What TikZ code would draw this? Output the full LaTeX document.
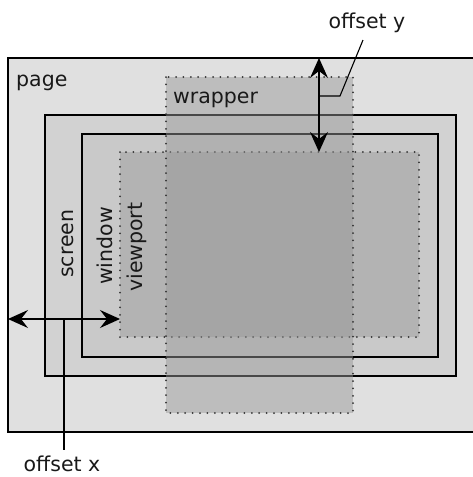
\documentclass[tikz,border=0pt]{standalone}
\usepackage{fontspec}
\setmainfont{DejaVu Sans}
\usetikzlibrary{arrows.meta}
\definecolor{pagefill}{HTML}{E0E0E0}
\definecolor{screenfill}{HTML}{D2D2D2}
\definecolor{windowfill}{HTML}{C9C9C9}
\definecolor{viewfill}{HTML}{B3B3B3}
\definecolor{wrapfill}{HTML}{979797}
\definecolor{dotcol}{HTML}{333333}
\tikzset{
  solidbox/.style={draw=black, line width=1.3pt},
  dotbox/.style={draw=dotcol, line width=2pt, line cap=round, dash pattern=on 0pt off 7.4pt},
  lbl/.style={font=\fontsize{20.5}{24}\selectfont, inner sep=0pt, text=black!90},
  dim/.style={line width=1.4pt, {Stealth[length=20pt,width=18pt,inset=7pt]}-{Stealth[length=20pt,width=18pt,inset=7pt]}},
  leader/.style={line width=1.1pt}
}
\begin{document}
\begin{tikzpicture}[x=1pt,y=-1pt]
\useasboundingbox (0,0) rectangle (472,477);
% boxes
\path[fill=pagefill, solidbox] (8,58) rectangle (474,432);
\path[fill=screenfill, solidbox] (45,115) rectangle (456,376);
\path[fill=windowfill, solidbox] (82,134) rectangle (438,357);
\path[fill=viewfill] (120,152) rectangle (419,337);
\path[dotbox] (120,152) rectangle (419,337);
\path[fill=wrapfill, fill opacity=0.48] (166,77) rectangle (353,413);
\path[dotbox] (166,77) rectangle (353,413);
% labels
\node[lbl, anchor=base west] (page) at (16,86) {page};
\node[lbl, anchor=base west] (wrapper) at (173,103) {wrapper};
\node[lbl, anchor=base west, rotate=90] (screen) at (73,278) {screen};
\node[lbl, anchor=base west, rotate=90] (window) at (112,285) {window};
\node[lbl, anchor=base west, rotate=90] (viewport) at (142,292) {viewport};
\node[lbl, anchor=base] (offy) at (367,28) {offset y};
\node[lbl, anchor=base] (offx) at (62,471.5) {offset x};
% dimension arrows
\coordinate (ytop) at (319,58);
\coordinate (ybot) at (319,152);
\coordinate (ymid) at (319,96);
\coordinate (ybend) at (340,96);
\coordinate (yend) at (363,40);
\coordinate (xleft) at (8,319);
\coordinate (xright) at (120,319);
\coordinate (xmid) at (64,319);
\coordinate (xend) at (64,450);
\draw[dim] (ytop) -- (ybot);
\draw[dim] (xleft) -- (xright);
\draw[leader] (ymid) -- (ybend) -- (yend);
\draw[leader] (xmid) -- (xend);
\end{tikzpicture}
\end{document}
